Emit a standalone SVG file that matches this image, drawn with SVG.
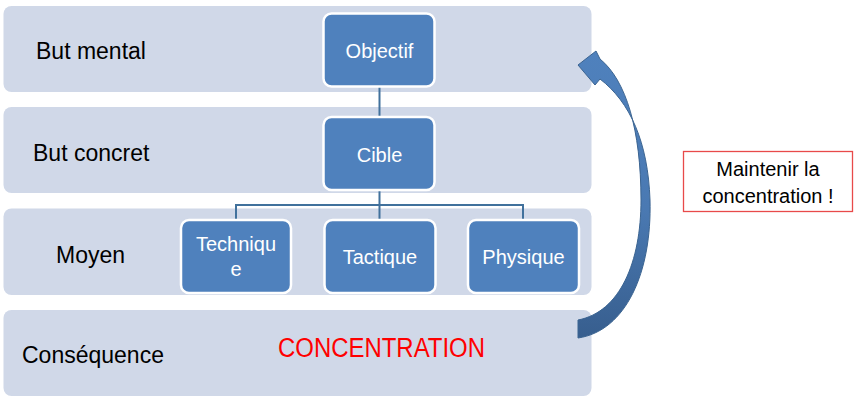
<svg xmlns="http://www.w3.org/2000/svg" width="859" height="407" viewBox="0 0 859 407">
<style>
.band{fill:#D0D8E8;}
.lbl{font-family:"Liberation Sans",Arial,sans-serif;font-size:23px;fill:#000;}
.box{fill:#4F81BD;stroke:#fff;stroke-width:2.5;}
.bt{font-family:"Liberation Sans",Arial,sans-serif;font-size:20px;fill:#fff;text-anchor:middle;}
.conn{fill:none;stroke:#41719C;stroke-width:2;}
</style>
<defs>
<linearGradient id="ag" x1="0" y1="0" x2="0" y2="1">
<stop offset="0" stop-color="#4F81BD"/>
<stop offset="0.55" stop-color="#4A79B2"/>
<stop offset="1" stop-color="#375E8E"/>
</linearGradient>
</defs>
<rect width="859" height="407" fill="#fff"/>
<g id="bands">
<g id="band-but-mental"><rect class="band" x="3.5" y="6" width="588" height="86" rx="8"/><text class="lbl" x="36" y="59">But mental</text></g>
<g id="band-but-concret"><rect class="band" x="3.5" y="107" width="588" height="86" rx="8"/><text class="lbl" x="33" y="161">But concret</text></g>
<g id="band-moyen"><rect class="band" x="3.5" y="208.5" width="588" height="86.5" rx="8"/><text class="lbl" x="56" y="263">Moyen</text></g>
<g id="band-consequence"><rect class="band" x="3.5" y="310" width="588" height="86" rx="8"/><text class="lbl" x="22" y="363">Conséquence</text></g>
</g>
<g id="connectors">
<path class="conn" d="M379.5 86 V117"/>
<path class="conn" d="M379.5 190 V220 M236 220 V205 H523 V220"/>
</g>
<g id="objectif"><rect class="box" x="323.5" y="13.5" width="111" height="73" rx="8"/><text class="bt" x="379.5" y="58">Objectif</text></g>
<g id="cible"><rect class="box" x="323.5" y="117" width="111" height="73" rx="8"/><text class="bt" x="379.5" y="162">Cible</text></g>
<g id="technique"><rect class="box" x="181" y="220" width="110" height="73" rx="8"/><text class="bt" x="236" y="251">Techniqu</text><text class="bt" x="236" y="276">e</text></g>
<g id="tactique"><rect class="box" x="324.5" y="220" width="111" height="73" rx="8"/><text class="bt" x="380" y="264">Tactique</text></g>
<g id="physique"><rect class="box" x="468" y="220" width="111" height="73" rx="8"/><text class="bt" x="523.5" y="264">Physique</text></g>
<g id="concentration"><text x="278" y="357" font-family="Liberation Sans, Arial, sans-serif" font-size="27" fill="#FF0000" textLength="207" lengthAdjust="spacingAndGlyphs">CONCENTRATION</text></g>
<g id="arrow"><path d="M578 338 C626 331 652 272 650 200 C648 142 630 102 600 79 L595 85 L578 65 L596 51 L600 59 C626 80 641 130 641 200 C641 262 620 312 578 320 Z" fill="url(#ag)" stroke="#3B6491" stroke-width="1"/></g>
<g id="maintenir"><rect x="683.5" y="151.5" width="169" height="60" fill="#fff" stroke="#E84A4A" stroke-width="1.3"/><text x="768" y="176" font-family="Liberation Sans, Arial, sans-serif" font-size="20" text-anchor="middle" fill="#000">Maintenir la</text><text x="768" y="203" font-family="Liberation Sans, Arial, sans-serif" font-size="20" text-anchor="middle" fill="#000">concentration !</text></g>
</svg>
